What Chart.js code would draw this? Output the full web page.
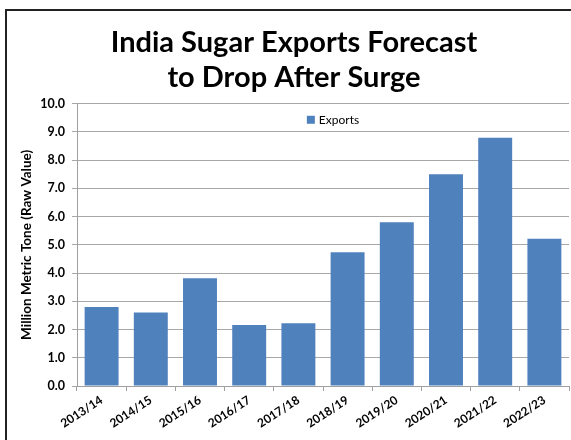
<!DOCTYPE html>
<html>
<head>
<meta charset="utf-8">
<script src="https://cdn.jsdelivr.net/npm/chart.js@4/dist/chart.umd.min.js"></script>
<style>
    html, body { margin: 0; padding: 0; background: #fff; overflow: hidden; }
    #frame {
        position: absolute; left: 5px; top: 9px;
        width: 620px; height: 500px;
        border: 2px solid #222;
    }
    #wrap { position: absolute; left: 7px; top: 11px; width: 580px; height: 429px; }
</style>
</head>
<body>
<div id="frame"></div>
<div id="wrap"><canvas id="sugar-chart"></canvas></div>
<script>
// Chart data
const seasons = ['2013/14', '2014/15', '2015/16', '2016/17', '2017/18',
                 '2018/19', '2019/20', '2020/21', '2021/22', '2022/23'];
const exportsValues = [2.8, 2.6, 3.82, 2.16, 2.22, 4.74, 5.8, 7.5, 8.8, 5.22];
const titleLines = ['India Sugar Exports Forecast', 'to Drop After Surge'];
const yAxisTitle = 'Million Metric Tone (Raw Value)';

const FONT = 'Lato, "Open Sans", sans-serif';
const BAR_BLUE = '#4f81bd';

// Legend drawn inside the plot, near the top (like the Excel original)
const insideLegend = {
    id: 'insideLegend',
    afterDraw(chart) {
        const { ctx, chartArea } = chart;
        const ds = chart.data.datasets[0];
        ctx.save();
        ctx.font = '12px ' + FONT;
        const textW = ctx.measureText(ds.label).width;
        const itemW = 8 + 4 + textW;
        const cx = (chartArea.left + chartArea.right) / 2 + 10;
        const x = cx - itemW / 2;
        const y = chartArea.top + 16;
        ctx.fillStyle = ds.backgroundColor;
        ctx.fillRect(x, y - 4, 8, 8);
        ctx.fillStyle = '#000';
        ctx.textBaseline = 'middle';
        ctx.fillText(ds.label, x + 12, y);
        ctx.restore();
    }
};

function renderSugarChart() {
    const ctx = document.getElementById('sugar-chart').getContext('2d');

    new Chart(ctx, {
        type: 'bar',
        data: {
            labels: seasons,
            datasets: [{
                label: 'Exports',
                data: exportsValues,
                backgroundColor: BAR_BLUE,
                borderWidth: 0,
                categoryPercentage: 1,
                barPercentage: 0.69
            }]
        },
        options: {
            responsive: true,
            maintainAspectRatio: false,
            animation: false,
            layout: { padding: { left: 12, right: 18, bottom: 0 } },
            plugins: {
                title: {
                    display: true,
                    text: titleLines,
                    color: '#000',
                    font: { family: FONT, size: 29, weight: 'bold', lineHeight: 1.22 },
                    padding: { top: 14, bottom: 8 }
                },
                legend: { display: false },
                tooltip: { enabled: false }
            },
            scales: {
                x: {
                    afterFit: scale => { scale.height = 54; },
                    border: { color: '#a0a0a0' },
                    grid: {
                        offset: true,
                        drawOnChartArea: false,
                        drawTicks: true,
                        tickLength: 5,
                        color: '#a0a0a0'
                    },
                    ticks: {
                        color: '#000',
                        minRotation: 33,
                        maxRotation: 33,
                        autoSkip: false,
                        padding: 2,
                        font: { family: FONT, size: 12, weight: 'bold' }
                    }
                },
                y: {
                    min: 0,
                    max: 10,
                    afterFit: scale => { scale.width = 58; },
                    border: { color: '#a0a0a0' },
                    grid: {
                        color: '#a8a8a8',
                        tickLength: 5
                    },
                    ticks: {
                        stepSize: 1,
                        color: '#000',
                        padding: 7,
                        font: { family: FONT, size: 12.5, weight: 'bold' },
                        callback: v => v.toFixed(1)
                    },
                    title: {
                        display: true,
                        text: yAxisTitle,
                        color: '#000',
                        padding: { top: 0, bottom: 4 },
                        font: { family: FONT, size: 13.5, weight: 'bold' }
                    }
                }
            }
        },
        plugins: [insideLegend]
    });
}

renderSugarChart();
</script>
</body>
</html>
